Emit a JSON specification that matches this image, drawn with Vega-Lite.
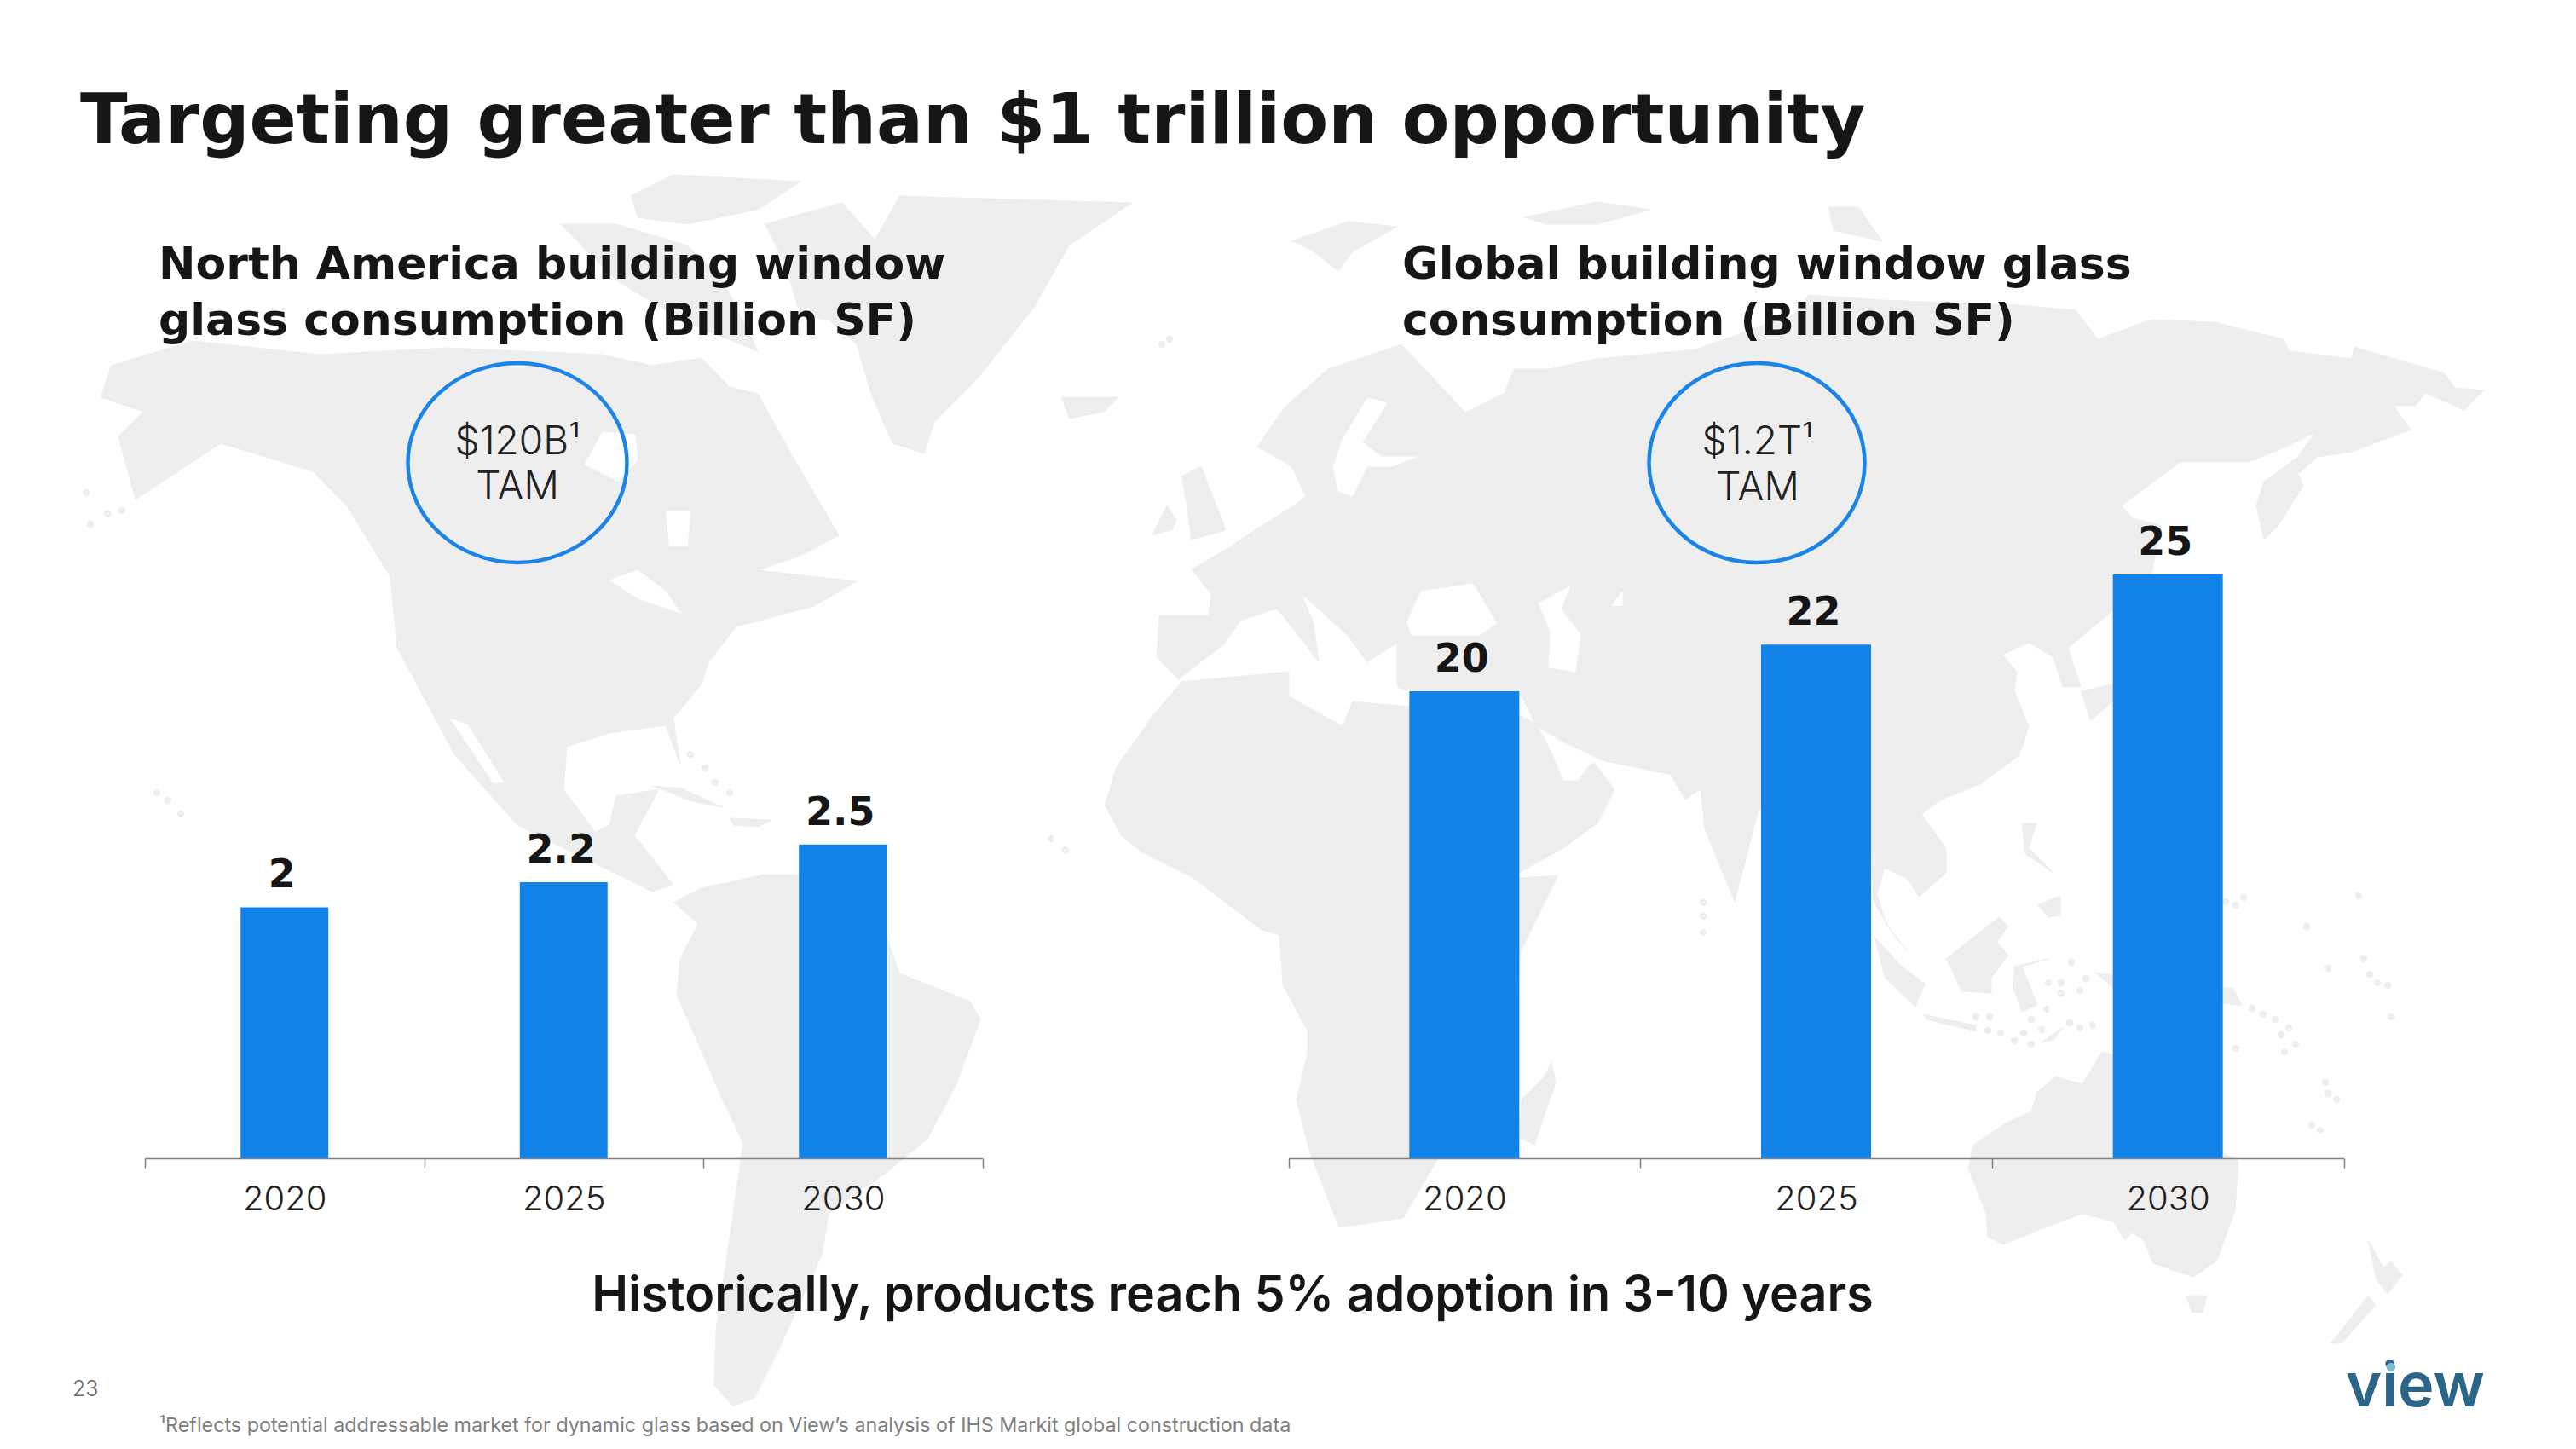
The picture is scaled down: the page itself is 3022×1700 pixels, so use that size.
{"$schema":"https://vega.github.io/schema/vega-lite/v6.json","width":3022,"height":1700,"padding":0,"autosize":{"type":"none"},"background":"#ffffff","config":{"view":{"stroke":null},"font":"Inter"},
"datasets":{
"northAmerica":[{"year":"2020","value":2},{"year":"2025","value":2.2},{"year":"2030","value":2.5}],
"global":[{"year":"2020","value":20},{"year":"2025","value":22},{"year":"2030","value":25}],
"land":[
{"s":"na","i":0,"mx":130,"my":429},{"s":"na","i":1,"mx":226,"my":400},{"s":"na","i":2,"mx":375,"my":416},{"s":"na","i":3,"mx":524,"my":408},{"s":"na","i":4,"mx":707,"my":416},{"s":"na","i":5,"mx":765,"my":429},{"s":"na","i":6,"mx":823,"my":420},{"s":"na","i":7,"mx":856,"my":454},{"s":"na","i":8,"mx":889,"my":462},{"s":"na","i":9,"mx":930,"my":536},{"s":"na","i":10,"mx":984,"my":628},{"s":"na","i":11,"mx":939,"my":652},{"s":"na","i":12,"mx":889,"my":669},{"s":"na","i":13,"mx":1005,"my":682},{"s":"na","i":14,"mx":955,"my":711},{"s":"na","i":15,"mx":864,"my":735},{"s":"na","i":16,"mx":831,"my":777},{"s":"na","i":17,"mx":823,"my":802},{"s":"na","i":18,"mx":790,"my":843},{"s":"na","i":19,"mx":798,"my":897},{"s":"na","i":20,"mx":781,"my":851},{"s":"na","i":21,"mx":715,"my":860},{"s":"na","i":22,"mx":665,"my":876},{"s":"na","i":23,"mx":661,"my":926},{"s":"na","i":24,"mx":698,"my":976},{"s":"na","i":25,"mx":715,"my":968},{"s":"na","i":26,"mx":723,"my":934},{"s":"na","i":27,"mx":773,"my":926},{"s":"na","i":28,"mx":744,"my":980},{"s":"na","i":29,"mx":790,"my":1038},{"s":"na","i":30,"mx":765,"my":1046},{"s":"na","i":31,"mx":690,"my":1009},{"s":"na","i":32,"mx":607,"my":968},{"s":"na","i":33,"mx":533,"my":885},{"s":"na","i":34,"mx":466,"my":760},{"s":"na","i":35,"mx":458,"my":677},{"s":"na","i":36,"mx":408,"my":595},{"s":"na","i":37,"mx":367,"my":553},{"s":"na","i":38,"mx":259,"my":520},{"s":"na","i":39,"mx":159,"my":586},{"s":"na","i":40,"mx":139,"my":512},{"s":"na","i":41,"mx":168,"my":483},{"s":"na","i":42,"mx":118,"my":466},
{"s":"sa","i":0,"mx":790,"my":1059},{"s":"sa","i":1,"mx":823,"my":1042},{"s":"sa","i":2,"mx":897,"my":1026},{"s":"sa","i":3,"mx":939,"my":1026},{"s":"sa","i":4,"mx":1038,"my":1092},{"s":"sa","i":5,"mx":1055,"my":1142},{"s":"sa","i":6,"mx":1138,"my":1175},{"s":"sa","i":7,"mx":1150,"my":1196},{"s":"sa","i":8,"mx":1121,"my":1274},{"s":"sa","i":9,"mx":1088,"my":1336},{"s":"sa","i":10,"mx":1042,"my":1374},{"s":"sa","i":11,"mx":972,"my":1424},{"s":"sa","i":12,"mx":964,"my":1473},{"s":"sa","i":13,"mx":915,"my":1580},{"s":"sa","i":14,"mx":905,"my":1600},{"s":"sa","i":15,"mx":885,"my":1640},{"s":"sa","i":16,"mx":860,"my":1650},{"s":"sa","i":17,"mx":838,"my":1625},{"s":"sa","i":18,"mx":840,"my":1560},{"s":"sa","i":19,"mx":852,"my":1480},{"s":"sa","i":20,"mx":872,"my":1341},{"s":"sa","i":21,"mx":848,"my":1291},{"s":"sa","i":22,"mx":794,"my":1167},{"s":"sa","i":23,"mx":798,"my":1125},{"s":"sa","i":24,"mx":819,"my":1084},
{"s":"gl","i":0,"mx":1055,"my":230},{"s":"gl","i":1,"mx":1328,"my":238},{"s":"gl","i":2,"mx":1254,"my":288},{"s":"gl","i":3,"mx":1212,"my":362},{"s":"gl","i":4,"mx":1146,"my":445},{"s":"gl","i":5,"mx":1096,"my":495},{"s":"gl","i":6,"mx":1084,"my":532},{"s":"gl","i":7,"mx":1047,"my":520},{"s":"gl","i":8,"mx":1022,"my":462},{"s":"gl","i":9,"mx":1005,"my":404},{"s":"gl","i":10,"mx":964,"my":367},{"s":"gl","i":11,"mx":1013,"my":304},
{"s":"ic","i":0,"mx":1245,"my":466},{"s":"ic","i":1,"mx":1312,"my":466},{"s":"ic","i":2,"mx":1295,"my":483},{"s":"ic","i":3,"mx":1254,"my":491},
{"s":"a1","i":0,"mx":740,"my":230},{"s":"a1","i":1,"mx":790,"my":205},{"s":"a1","i":2,"mx":939,"my":213},{"s":"a1","i":3,"mx":889,"my":246},{"s":"a1","i":4,"mx":806,"my":263},{"s":"a1","i":5,"mx":748,"my":255},
{"s":"a2","i":0,"mx":657,"my":263},{"s":"a2","i":1,"mx":723,"my":263},{"s":"a2","i":2,"mx":806,"my":288},{"s":"a2","i":3,"mx":848,"my":329},{"s":"a2","i":4,"mx":889,"my":412},{"s":"a2","i":5,"mx":806,"my":379},{"s":"a2","i":6,"mx":723,"my":329},{"s":"a2","i":7,"mx":682,"my":288},
{"s":"a3","i":0,"mx":897,"my":263},{"s":"a3","i":1,"mx":988,"my":238},{"s":"a3","i":2,"mx":1055,"my":313},{"s":"a3","i":3,"mx":997,"my":379},{"s":"a3","i":4,"mx":939,"my":371},{"s":"a3","i":5,"mx":922,"my":313},
{"s":"cu","i":0,"mx":765,"my":922},{"s":"cu","i":1,"mx":800,"my":925},{"s":"cu","i":2,"mx":848,"my":947},{"s":"cu","i":3,"mx":810,"my":940},
{"s":"hi","i":0,"mx":856,"my":960},{"s":"hi","i":1,"mx":905,"my":962},{"s":"hi","i":2,"mx":890,"my":970},{"s":"hi","i":3,"mx":860,"my":968},
{"s":"af","i":0,"mx":1296,"my":945},{"s":"af","i":1,"mx":1310,"my":900},{"s":"af","i":2,"mx":1352,"my":840},{"s":"af","i":3,"mx":1386,"my":800},{"s":"af","i":4,"mx":1512,"my":788},{"s":"af","i":5,"mx":1512,"my":817},{"s":"af","i":6,"mx":1575,"my":852},{"s":"af","i":7,"mx":1587,"my":823},{"s":"af","i":8,"mx":1653,"my":829},{"s":"af","i":9,"mx":1720,"my":850},{"s":"af","i":10,"mx":1770,"my":1020},{"s":"af","i":11,"mx":1782,"my":1030},{"s":"af","i":12,"mx":1828,"my":1027},{"s":"af","i":13,"mx":1783,"my":1118},{"s":"af","i":14,"mx":1778,"my":1279},{"s":"af","i":15,"mx":1687,"my":1359},{"s":"af","i":16,"mx":1646,"my":1429},{"s":"af","i":17,"mx":1571,"my":1440},{"s":"af","i":18,"mx":1536,"my":1350},{"s":"af","i":19,"mx":1521,"my":1290},{"s":"af","i":20,"mx":1534,"my":1236},{"s":"af","i":21,"mx":1534,"my":1209},{"s":"af","i":22,"mx":1505,"my":1156},{"s":"af","i":23,"mx":1501,"my":1097},{"s":"af","i":24,"mx":1480,"my":1091},{"s":"af","i":25,"mx":1400,"my":1030},{"s":"af","i":26,"mx":1340,"my":1000},{"s":"af","i":27,"mx":1315,"my":980},
{"s":"ar","i":0,"mx":1720,"my":810},{"s":"ar","i":1,"mx":1805,"my":850},{"s":"ar","i":2,"mx":1834,"my":915},{"s":"ar","i":3,"mx":1870,"my":895},{"s":"ar","i":4,"mx":1894,"my":926},{"s":"ar","i":5,"mx":1874,"my":966},{"s":"ar","i":6,"mx":1834,"my":995},{"s":"ar","i":7,"mx":1782,"my":1024},{"s":"ar","i":8,"mx":1770,"my":1000},{"s":"ar","i":9,"mx":1700,"my":860},
{"s":"ea","i":0,"mx":1383,"my":797},{"s":"ea","i":1,"mx":1357,"my":771},{"s":"ea","i":2,"mx":1360,"my":722},{"s":"ea","i":3,"mx":1418,"my":722},{"s":"ea","i":4,"mx":1421,"my":697},{"s":"ea","i":5,"mx":1398,"my":668},{"s":"ea","i":6,"mx":1438,"my":645},{"s":"ea","i":7,"mx":1472,"my":622},{"s":"ea","i":8,"mx":1518,"my":593},{"s":"ea","i":9,"mx":1532,"my":582},{"s":"ea","i":10,"mx":1515,"my":547},{"s":"ea","i":11,"mx":1475,"my":524},{"s":"ea","i":12,"mx":1507,"my":478},{"s":"ea","i":13,"mx":1558,"my":433},{"s":"ea","i":14,"mx":1644,"my":404},{"s":"ea","i":15,"mx":1690,"my":453},{"s":"ea","i":16,"mx":1719,"my":484},{"s":"ea","i":17,"mx":1765,"my":461},{"s":"ea","i":18,"mx":1776,"my":433},{"s":"ea","i":19,"mx":1817,"my":433},{"s":"ea","i":20,"mx":1874,"my":421},{"s":"ea","i":21,"mx":1989,"my":410},{"s":"ea","i":22,"mx":2104,"my":369},{"s":"ea","i":23,"mx":2122,"my":346},{"s":"ea","i":24,"mx":2208,"my":352},{"s":"ea","i":25,"mx":2369,"my":358},{"s":"ea","i":26,"mx":2435,"my":364},{"s":"ea","i":27,"mx":2461,"my":398},{"s":"ea","i":28,"mx":2524,"my":375},{"s":"ea","i":29,"mx":2598,"my":378},{"s":"ea","i":30,"mx":2679,"my":398},{"s":"ea","i":31,"mx":2685,"my":412},{"s":"ea","i":32,"mx":2759,"my":421},{"s":"ea","i":33,"mx":2762,"my":407},{"s":"ea","i":34,"mx":2868,"my":438},{"s":"ea","i":35,"mx":2880,"my":455},{"s":"ea","i":36,"mx":2914,"my":458},{"s":"ea","i":37,"mx":2891,"my":481},{"s":"ea","i":38,"mx":2845,"my":461},{"s":"ea","i":39,"mx":2834,"my":476},{"s":"ea","i":40,"mx":2808,"my":476},{"s":"ea","i":41,"mx":2828,"my":504},{"s":"ea","i":42,"mx":2759,"my":530},{"s":"ea","i":43,"mx":2719,"my":536},{"s":"ea","i":44,"mx":2696,"my":556},{"s":"ea","i":45,"mx":2702,"my":570},{"s":"ea","i":46,"mx":2673,"my":616},{"s":"ea","i":47,"mx":2656,"my":633},{"s":"ea","i":48,"mx":2647,"my":593},{"s":"ea","i":49,"mx":2656,"my":565},{"s":"ea","i":50,"mx":2696,"my":536},{"s":"ea","i":51,"mx":2716,"my":507},{"s":"ea","i":52,"mx":2682,"my":524},{"s":"ea","i":53,"mx":2639,"my":542},{"s":"ea","i":54,"mx":2558,"my":542},{"s":"ea","i":55,"mx":2489,"my":593},{"s":"ea","i":56,"mx":2501,"my":608},{"s":"ea","i":57,"mx":2535,"my":616},{"s":"ea","i":58,"mx":2524,"my":674},{"s":"ea","i":59,"mx":2472,"my":722},{"s":"ea","i":60,"mx":2426,"my":760},{"s":"ea","i":61,"mx":2441,"my":806},{"s":"ea","i":62,"mx":2420,"my":806},{"s":"ea","i":63,"mx":2409,"my":771},{"s":"ea","i":64,"mx":2380,"my":754},{"s":"ea","i":65,"mx":2349,"my":768},{"s":"ea","i":66,"mx":2366,"my":788},{"s":"ea","i":67,"mx":2363,"my":811},{"s":"ea","i":68,"mx":2380,"my":852},{"s":"ea","i":69,"mx":2369,"my":886},{"s":"ea","i":70,"mx":2323,"my":920},{"s":"ea","i":71,"mx":2277,"my":938},{"s":"ea","i":72,"mx":2254,"my":955},{"s":"ea","i":73,"mx":2283,"my":995},{"s":"ea","i":74,"mx":2283,"my":1024},{"s":"ea","i":75,"mx":2251,"my":1052},{"s":"ea","i":76,"mx":2238,"my":1031},{"s":"ea","i":77,"mx":2211,"my":1018},{"s":"ea","i":78,"mx":2202,"my":1049},{"s":"ea","i":79,"mx":2213,"my":1085},{"s":"ea","i":80,"mx":2238,"my":1116},{"s":"ea","i":81,"mx":2222,"my":1098},{"s":"ea","i":82,"mx":2198,"my":1058},{"s":"ea","i":83,"mx":2196,"my":1000},{"s":"ea","i":84,"mx":2130,"my":960},{"s":"ea","i":85,"mx":2063,"my":950},{"s":"ea","i":86,"mx":2035,"my":1058},{"s":"ea","i":87,"mx":2000,"my":972},{"s":"ea","i":88,"mx":1995,"my":926},{"s":"ea","i":89,"mx":1977,"my":938},{"s":"ea","i":90,"mx":1960,"my":909},{"s":"ea","i":91,"mx":1880,"my":892},{"s":"ea","i":92,"mx":1805,"my":857},{"s":"ea","i":93,"mx":1782,"my":811},{"s":"ea","i":94,"mx":1655,"my":811},{"s":"ea","i":95,"mx":1639,"my":806},{"s":"ea","i":96,"mx":1639,"my":754},{"s":"ea","i":97,"mx":1604,"my":777},{"s":"ea","i":98,"mx":1581,"my":745},{"s":"ea","i":99,"mx":1527,"my":697},{"s":"ea","i":100,"mx":1541,"my":731},{"s":"ea","i":101,"mx":1547,"my":777},{"s":"ea","i":102,"mx":1530,"my":754},{"s":"ea","i":103,"mx":1498,"my":714},{"s":"ea","i":104,"mx":1455,"my":728},{"s":"ea","i":105,"mx":1435,"my":757},
{"s":"uk","i":0,"mx":1386,"my":559},{"s":"uk","i":1,"mx":1409,"my":547},{"s":"uk","i":2,"mx":1438,"my":622},{"s":"uk","i":3,"mx":1398,"my":633},{"s":"uk","i":4,"mx":1392,"my":593},
{"s":"ie","i":0,"mx":1352,"my":628},{"s":"ie","i":1,"mx":1369,"my":593},{"s":"ie","i":2,"mx":1380,"my":610},{"s":"ie","i":3,"mx":1375,"my":622},
{"s":"sv","i":0,"mx":1788,"my":255},{"s":"sv","i":1,"mx":1874,"my":237},{"s":"sv","i":2,"mx":1937,"my":246},{"s":"sv","i":3,"mx":1874,"my":263},{"s":"sv","i":4,"mx":1811,"my":263},
{"s":"nz0","i":0,"mx":2145,"my":243},{"s":"nz0","i":1,"mx":2180,"my":243},{"s":"nz0","i":2,"mx":2208,"my":283},{"s":"nz0","i":3,"mx":2150,"my":270},
{"s":"sb","i":0,"mx":1515,"my":283},{"s":"sb","i":1,"mx":1581,"my":260},{"s":"sb","i":2,"mx":1639,"my":266},{"s":"sb","i":3,"mx":1587,"my":295},{"s":"sb","i":4,"mx":1570,"my":318},{"s":"sb","i":5,"mx":1541,"my":295},
{"s":"bo","i":0,"mx":2283,"my":1125},{"s":"bo","i":1,"mx":2345,"my":1076},{"s":"bo","i":2,"mx":2356,"my":1087},{"s":"bo","i":3,"mx":2343,"my":1105},{"s":"bo","i":4,"mx":2356,"my":1121},{"s":"bo","i":5,"mx":2336,"my":1147},{"s":"bo","i":6,"mx":2336,"my":1165},{"s":"bo","i":7,"mx":2301,"my":1163},
{"s":"su","i":0,"mx":2198,"my":1098},{"s":"su","i":1,"mx":2231,"my":1134},{"s":"su","i":2,"mx":2258,"my":1154},{"s":"su","i":3,"mx":2247,"my":1181},{"s":"su","i":4,"mx":2211,"my":1147},
{"s":"ja","i":0,"mx":2256,"my":1190},{"s":"ja","i":1,"mx":2318,"my":1203},{"s":"ja","i":2,"mx":2318,"my":1210},{"s":"ja","i":3,"mx":2260,"my":1196},
{"s":"se","i":0,"mx":2363,"my":1134},{"s":"se","i":1,"mx":2403,"my":1125},{"s":"se","i":2,"mx":2372,"my":1134},{"s":"se","i":3,"mx":2390,"my":1179},{"s":"se","i":4,"mx":2372,"my":1187},{"s":"se","i":5,"mx":2361,"my":1156},
{"s":"ph","i":0,"mx":2390,"my":1062},{"s":"ph","i":1,"mx":2417,"my":1051},{"s":"ph","i":2,"mx":2417,"my":1074},{"s":"ph","i":3,"mx":2403,"my":1076},
{"s":"lu","i":0,"mx":2372,"my":966},{"s":"lu","i":1,"mx":2389,"my":966},{"s":"lu","i":2,"mx":2380,"my":995},{"s":"lu","i":3,"mx":2409,"my":1024},{"s":"lu","i":4,"mx":2375,"my":1001},
{"s":"ti","i":0,"mx":2394,"my":1223},{"s":"ti","i":1,"mx":2421,"my":1205},{"s":"ti","i":2,"mx":2408,"my":1221},
{"s":"au","i":0,"mx":2314,"my":1344},{"s":"au","i":1,"mx":2354,"my":1317},{"s":"au","i":2,"mx":2383,"my":1304},{"s":"au","i":3,"mx":2390,"my":1281},{"s":"au","i":4,"mx":2412,"my":1263},{"s":"au","i":5,"mx":2443,"my":1272},{"s":"au","i":6,"mx":2466,"my":1234},{"s":"au","i":7,"mx":2479,"my":1237},{"s":"au","i":8,"mx":2600,"my":1260},{"s":"au","i":9,"mx":2608,"my":1353},{"s":"au","i":10,"mx":2626,"my":1362},{"s":"au","i":11,"mx":2622,"my":1420},{"s":"au","i":12,"mx":2600,"my":1480},{"s":"au","i":13,"mx":2573,"my":1498},{"s":"au","i":14,"mx":2551,"my":1491},{"s":"au","i":15,"mx":2526,"my":1482},{"s":"au","i":16,"mx":2515,"my":1455},{"s":"au","i":17,"mx":2501,"my":1446},{"s":"au","i":18,"mx":2493,"my":1455},{"s":"au","i":19,"mx":2479,"my":1433},{"s":"au","i":20,"mx":2443,"my":1424},{"s":"au","i":21,"mx":2394,"my":1442},{"s":"au","i":22,"mx":2350,"my":1460},{"s":"au","i":23,"mx":2332,"my":1451},{"s":"au","i":24,"mx":2330,"my":1424},{"s":"au","i":25,"mx":2309,"my":1370},
{"s":"ng","i":0,"mx":2457,"my":1141},{"s":"ng","i":1,"mx":2620,"my":1160},{"s":"ng","i":2,"mx":2630,"my":1180},{"s":"ng","i":3,"mx":2480,"my":1160},
{"s":"ta","i":0,"mx":2564,"my":1520},{"s":"ta","i":1,"mx":2589,"my":1520},{"s":"ta","i":2,"mx":2584,"my":1540},{"s":"ta","i":3,"mx":2571,"my":1540},
{"s":"nn","i":0,"mx":2778,"my":1455},{"s":"nn","i":1,"mx":2796,"my":1487},{"s":"nn","i":2,"mx":2805,"my":1480},{"s":"nn","i":3,"mx":2818,"my":1496},{"s":"nn","i":4,"mx":2801,"my":1518},{"s":"nn","i":5,"mx":2787,"my":1500},
{"s":"ns","i":0,"mx":2778,"my":1520},{"s":"ns","i":1,"mx":2787,"my":1531},{"s":"ns","i":2,"mx":2747,"my":1576},{"s":"ns","i":3,"mx":2734,"my":1576},
{"s":"ma","i":0,"mx":1820,"my":1246},{"s":"ma","i":1,"mx":1825,"my":1270},{"s":"ma","i":2,"mx":1800,"my":1343},{"s":"ma","i":3,"mx":1783,"my":1335},{"s":"ma","i":4,"mx":1785,"my":1290},{"s":"ma","i":5,"mx":1810,"my":1265},
{"s":"jp","i":0,"mx":2441,"my":811},{"s":"jp","i":1,"mx":2478,"my":803},{"s":"jp","i":2,"mx":2479,"my":823},{"s":"jp","i":3,"mx":2452,"my":846}
],
"sea":[
{"s":"hb","i":0,"mx":686,"my":545},{"s":"hb","i":1,"mx":707,"my":507},{"s":"hb","i":2,"mx":745,"my":510},{"s":"hb","i":3,"mx":748,"my":540},{"s":"hb","i":4,"mx":725,"my":565},
{"s":"jb","i":0,"mx":781,"my":600},{"s":"jb","i":1,"mx":810,"my":600},{"s":"jb","i":2,"mx":806,"my":640},{"s":"jb","i":3,"mx":785,"my":640},
{"s":"gl","i":0,"mx":715,"my":681},{"s":"gl","i":1,"mx":748,"my":669},{"s":"gl","i":2,"mx":781,"my":694},{"s":"gl","i":3,"mx":798,"my":719},{"s":"gl","i":4,"mx":748,"my":702},
{"s":"bj","i":0,"mx":528,"my":843},{"s":"bj","i":1,"mx":549,"my":851},{"s":"bj","i":2,"mx":591,"my":918},{"s":"bj","i":3,"mx":578,"my":918},
{"s":"ba","i":0,"mx":1573,"my":519},{"s":"ba","i":1,"mx":1604,"my":467},{"s":"ba","i":2,"mx":1627,"my":473},{"s":"ba","i":3,"mx":1598,"my":519},{"s":"ba","i":4,"mx":1621,"my":536},{"s":"ba","i":5,"mx":1662,"my":536},{"s":"ba","i":6,"mx":1633,"my":547},{"s":"ba","i":7,"mx":1604,"my":547},{"s":"ba","i":8,"mx":1587,"my":582},{"s":"ba","i":9,"mx":1570,"my":576},{"s":"ba","i":10,"mx":1564,"my":547},
{"s":"bl","i":0,"mx":1650,"my":731},{"s":"bl","i":1,"mx":1667,"my":694},{"s":"bl","i":2,"mx":1728,"my":685},{"s":"bl","i":3,"mx":1756,"my":731},{"s":"bl","i":4,"mx":1736,"my":745},{"s":"bl","i":5,"mx":1656,"my":745},
{"s":"ca","i":0,"mx":1805,"my":708},{"s":"ca","i":1,"mx":1842,"my":688},{"s":"ca","i":2,"mx":1831,"my":714},{"s":"ca","i":3,"mx":1854,"my":745},{"s":"ca","i":4,"mx":1848,"my":788},{"s":"ca","i":5,"mx":1817,"my":783},{"s":"ca","i":6,"mx":1819,"my":743},
{"s":"ar","i":0,"mx":1891,"my":711},{"s":"ar","i":1,"mx":1903,"my":694},{"s":"ar","i":2,"mx":1903,"my":711},
{"s":"pg","i":0,"mx":1805,"my":854},{"s":"pg","i":1,"mx":1868,"my":892},{"s":"pg","i":2,"mx":1851,"my":915},{"s":"pg","i":3,"mx":1834,"my":915},{"s":"pg","i":4,"mx":1820,"my":880}
],
"islands":[{"mx":810,"my":885},{"mx":827,"my":901},{"mx":839,"my":918},{"mx":856,"my":930},{"mx":184,"my":930},{"mx":197,"my":939},{"mx":212,"my":955},{"mx":106,"my":615},{"mx":126,"my":603},{"mx":143,"my":599},{"mx":101,"my":578},{"mx":1233,"my":984},{"mx":1250,"my":997},{"mx":1372,"my":398},{"mx":1363,"my":404},{"mx":2706,"my":1087},{"mx":2731,"my":1136},{"mx":2773,"my":1125},{"mx":2780,"my":1143},{"mx":2789,"my":1153},{"mx":2801,"my":1156},{"mx":2642,"my":1183},{"mx":2655,"my":1190},{"mx":2669,"my":1196},{"mx":2685,"my":1206},{"mx":2676,"my":1214},{"mx":2693,"my":1225},{"mx":2680,"my":1234},{"mx":2623,"my":1230},{"mx":2728,"my":1270},{"mx":2731,"my":1283},{"mx":2741,"my":1290},{"mx":2767,"my":1051},{"mx":2805,"my":1193},{"mx":2611,"my":1058},{"mx":2623,"my":1062},{"mx":2632,"my":1053},{"mx":1998,"my":1059},{"mx":1998,"my":1075},{"mx":1998,"my":1094},{"mx":2318,"my":1193},{"mx":2334,"my":1193},{"mx":2332,"my":1209},{"mx":2347,"my":1212},{"mx":2374,"my":1212},{"mx":2363,"my":1221},{"mx":2383,"my":1225},{"mx":2395,"my":1208},{"mx":2428,"my":1200},{"mx":2440,"my":1206},{"mx":2455,"my":1203},{"mx":2401,"my":1184},{"mx":2383,"my":1196},{"mx":2403,"my":1153},{"mx":2418,"my":1153},{"mx":2418,"my":1165},{"mx":2440,"my":1162},{"mx":2447,"my":1148},{"mx":2430,"my":1129},{"mx":2722,"my":1326},{"mx":2712,"my":1320}]
},
"resolve":{"scale":{"x":"independent","y":"independent"},"axis":{"x":"independent","y":"independent"}},
"layer":[
{"encoding":{"x":{"field":"mx","type":"quantitative","axis":null,"scale":{"domain":[0,3022],"range":[0,3022],"nice":false,"zero":false}},"y":{"field":"my","type":"quantitative","axis":null,"scale":{"domain":[0,1700],"range":[0,1700],"nice":false,"zero":false}}},
"layer":[
{"data":{"name":"land"},"mark":{"type":"line","fill":"#eeeeee","filled":true,"stroke":"#eeeeee","strokeWidth":1},"encoding":{"detail":{"field":"s"},"order":{"field":"i","type":"quantitative"}}},
{"data":{"name":"islands"},"mark":{"type":"point","filled":true,"color":"#eeeeee","opacity":1,"size":70}},
{"data":{"name":"sea"},"mark":{"type":"line","fill":"#ffffff","filled":true,"stroke":"#ffffff","strokeWidth":1},"encoding":{"detail":{"field":"s"},"order":{"field":"i","type":"quantitative"}}},
{"data":{"values":[{"mx":607,"my":543,"name":"$120B TAM"}]},"mark":{"type":"point","shape":"M-1,0A1,0.91,0,1,1,1,0A1,0.91,0,1,1,-1,0Z","size":66049,"filled":false,"stroke":"#1b84e6","strokeWidth":4.5,"opacity":1}},
{"data":{"values":[{"mx":2061,"my":543,"name":"$1.2T TAM"}]},"mark":{"type":"point","shape":"M-1,0A1,0.925,0,1,1,1,0A1,0.925,0,1,1,-1,0Z","size":64009,"filled":false,"stroke":"#1b84e6","strokeWidth":4.5,"opacity":1}},
{"data":{"values":[{"label":"Targeting greater than $1 trillion opportunity","mx":94,"my":168}]},"mark":{"type":"text","align":"left","baseline":"alphabetic","font":"DejaVu Sans","fontWeight":700,"fontSize":81.5,"fill":"#161616"},"encoding":{"text":{"field":"label"}}},
{"data":{"values":[{"label":"North America building window","mx":186,"my":327},{"label":"glass consumption (Billion SF)","mx":186,"my":393},{"label":"Global building window glass","mx":1645,"my":327},{"label":"consumption (Billion SF)","mx":1645,"my":393}]},"mark":{"type":"text","align":"left","baseline":"alphabetic","font":"DejaVu Sans","fontWeight":700,"fontSize":52,"fill":"#161616"},"encoding":{"text":{"field":"label"}}},
{"data":{"values":[{"label":"$120B¹","mx":607,"my":533},{"label":"TAM","mx":607,"my":586},{"label":"$1.2T¹","mx":2062,"my":533},{"label":"TAM","mx":2062,"my":587}]},"mark":{"type":"text","align":"center","baseline":"alphabetic","font":"Inter","fontWeight":300,"fontSize":46,"fill":"#222222"},"encoding":{"text":{"field":"label"}}},
{"data":{"values":[{"label":"Historically, products reach 5% adoption in 3-10 years","mx":1446,"my":1538}]},"mark":{"type":"text","align":"center","baseline":"alphabetic","font":"Inter","fontWeight":600,"fontSize":57.4,"fill":"#161616"},"encoding":{"text":{"field":"label"}}},
{"data":{"values":[{"label":"23","mx":85,"my":1638}]},"mark":{"type":"text","align":"left","baseline":"alphabetic","font":"Inter","fontWeight":300,"fontSize":25,"fill":"#666666"},"encoding":{"text":{"field":"label"}}},
{"data":{"values":[{"label":"¹Reflects potential addressable market for dynamic glass based on View’s analysis of IHS Markit global construction data","mx":187,"my":1680}]},"mark":{"type":"text","align":"left","baseline":"alphabetic","font":"Inter","fontWeight":400,"fontSize":23.3,"fill":"#808080"},"encoding":{"text":{"field":"label"}}},
{"data":{"values":[{"label":"view","mx":2752,"my":1650}]},"mark":{"type":"text","align":"left","baseline":"alphabetic","font":"Inter","fontWeight":600,"fontSize":72,"fill":"#2b6688"},"encoding":{"text":{"field":"label"}}},
{"data":{"values":[{"mx":2805,"my":1604}]},"mark":{"type":"point","filled":true,"color":"#7fb8d0","opacity":1,"size":110}}
]},
{"data":{"name":"northAmerica"},
"encoding":{"x":{"field":"year","type":"nominal","sort":null,"scale":{"type":"band","range":[170,1152.5],"paddingInner":0,"paddingOuter":0},"axis":{"orient":"bottom","offset":-341,"title":null,"tickBand":"extent","labelAngle":0,"labelFont":"Inter","labelFontWeight":300,"labelFontSize":40,"labelColor":"#222222","labelPadding":17,"tickSize":11,"tickColor":"#808080","domainColor":"#808080","tickWidth":1.5,"domainWidth":1.5,"zindex":1}},"y":{"field":"value","type":"quantitative","axis":null,"scale":{"domain":[0,9.226],"range":[1359,0],"nice":false}}},
"layer":[
{"mark":{"type":"bar","size":103,"fill":"#1183e8"}},
{"mark":{"type":"text","align":"center","baseline":"alphabetic","dy":-23,"dx":-3,"font":"DejaVu Sans","fontWeight":700,"fontSize":46,"fill":"#161616"},"encoding":{"text":{"field":"value","type":"quantitative"}}}
]},
{"data":{"name":"global"},
"encoding":{"x":{"field":"year","type":"nominal","sort":null,"scale":{"type":"band","range":[1511.5,2749.5],"paddingInner":0,"paddingOuter":0},"axis":{"orient":"bottom","offset":-341,"title":null,"tickBand":"extent","labelAngle":0,"labelFont":"Inter","labelFontWeight":300,"labelFontSize":40,"labelColor":"#222222","labelPadding":17,"tickSize":11,"tickColor":"#808080","domainColor":"#808080","tickWidth":1.5,"domainWidth":1.5,"zindex":1}},"y":{"field":"value","type":"quantitative","axis":null,"scale":{"domain":[0,49.6],"range":[1359,0],"nice":false}}},
"layer":[
{"mark":{"type":"bar","size":129,"fill":"#1183e8"}},
{"mark":{"type":"text","align":"center","baseline":"alphabetic","dy":-23,"dx":-3,"font":"DejaVu Sans","fontWeight":700,"fontSize":46,"fill":"#161616"},"encoding":{"text":{"field":"value","type":"quantitative"}}}
]}
]}
